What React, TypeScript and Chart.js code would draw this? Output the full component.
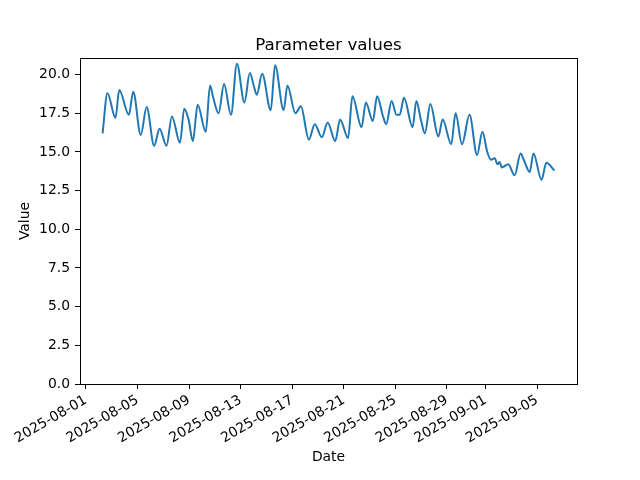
import React, { useEffect, useRef } from "react";
import { Chart, registerables } from "chart.js";

Chart.register(...registerables);

const chartTitle = "Parameter values";
const xAxisTitle = "Date";
const yAxisTitle = "Value";

const times: string[] = [
  "2025-08-02T07:00", "2025-08-02T16:00", "2025-08-03T07:00", "2025-08-03T14:00",
  "2025-08-04T08:00", "2025-08-04T16:00", "2025-08-05T06:00", "2025-08-05T17:00",
  "2025-08-06T07:00", "2025-08-06T17:00", "2025-08-07T06:00", "2025-08-07T16:00",
  "2025-08-08T07:00", "2025-08-08T15:00", "2025-08-08T23:00", "2025-08-09T07:00",
  "2025-08-09T16:00", "2025-08-10T07:00", "2025-08-10T15:00", "2025-08-10T21:00",
  "2025-08-11T07:00", "2025-08-11T17:00", "2025-08-12T06:00", "2025-08-12T17:00",
  "2025-08-13T07:00", "2025-08-13T17:00", "2025-08-14T01:00", "2025-08-14T06:00",
  "2025-08-14T16:00", "2025-08-15T08:00", "2025-08-15T16:00", "2025-08-16T08:00",
  "2025-08-16T15:00", "2025-08-17T06:00", "2025-08-17T16:00", "2025-08-18T07:00",
  "2025-08-18T18:00", "2025-08-19T07:00", "2025-08-19T18:00", "2025-08-20T08:00",
  "2025-08-20T17:00", "2025-08-21T08:00", "2025-08-21T16:00", "2025-08-22T09:00",
  "2025-08-22T17:00", "2025-08-23T06:00", "2025-08-23T14:00", "2025-08-24T01:00",
  "2025-08-24T07:00", "2025-08-24T17:00", "2025-08-25T02:00", "2025-08-25T08:00",
  "2025-08-25T16:00", "2025-08-26T08:00", "2025-08-26T15:00", "2025-08-27T00:00",
  "2025-08-27T07:00", "2025-08-27T17:00", "2025-08-28T08:00", "2025-08-28T16:00",
  "2025-08-29T08:00", "2025-08-29T16:00", "2025-08-30T04:00", "2025-08-30T18:00",
  "2025-08-31T08:00", "2025-08-31T18:00", "2025-09-01T03:00", "2025-09-01T10:00",
  "2025-09-01T17:00", "2025-09-01T22:00", "2025-09-02T02:00", "2025-09-02T06:00",
  "2025-09-02T18:00", "2025-09-03T06:00", "2025-09-03T17:00", "2025-09-03T23:00",
  "2025-09-04T10:00", "2025-09-04T17:00", "2025-09-05T08:00", "2025-09-05T17:00",
  "2025-09-06T08:00",
];

const values: number[] = [
  16.2, 18.8, 17.2, 19.0,
  17.4, 18.9, 16.1, 17.9,
  15.4, 16.5, 15.4, 17.3,
  15.6, 17.8, 17.1, 15.7,
  18.05, 16.3, 19.3, 18.5,
  17.5, 19.4, 17.4, 20.7,
  18.2, 20.1, 19.2, 18.7,
  20.05, 17.7, 20.6, 17.7,
  19.3, 17.5, 17.95, 15.8,
  16.8, 15.95, 16.9, 15.7,
  17.1, 15.9, 18.6, 16.6,
  18.2, 17.0, 18.6, 17.3,
  16.8, 18.3, 17.4, 17.4,
  18.5, 16.6, 18.3, 17.0,
  16.2, 18.1, 16.0, 17.1,
  15.5, 17.5, 15.5, 17.4,
  14.8, 16.3, 15.0, 14.5,
  14.6, 14.2, 14.35, 14.0,
  14.2, 13.5, 14.9, 14.5,
  13.7, 14.9, 13.2, 14.3,
  13.8,
];

const xTickLabels: string[] = [
  "2025-08-01", "2025-08-05", "2025-08-09", "2025-08-13", "2025-08-17",
  "2025-08-21", "2025-08-25", "2025-08-29", "2025-09-01", "2025-09-05",
];

const yTickValues: number[] = [0, 2.5, 5, 7.5, 10, 12.5, 15, 17.5, 20];

const toMs = (s: string) => Date.parse(s.length <= 10 ? s + "T00:00:00Z" : s + ":00Z");

const fmtDate = (ms: number) => {
  const d = new Date(ms);
  const mm = String(d.getUTCMonth() + 1).padStart(2, "0");
  const dd = String(d.getUTCDate()).padStart(2, "0");
  return `${d.getUTCFullYear()}-${mm}-${dd}`;
};

const FONT = "'DejaVu Sans', sans-serif";

const frame = {
  id: "frame",
  afterDraw(chart: any) {
    const { ctx, chartArea } = chart;
    ctx.save();
    ctx.strokeStyle = "#000";
    ctx.lineWidth = 1;
    ctx.strokeRect(
      Math.round(chartArea.left) + 0.5,
      Math.round(chartArea.top) + 0.5,
      Math.round(chartArea.right - chartArea.left),
      Math.round(chartArea.bottom - chartArea.top)
    );
    // axes title, centred over the plot area like matplotlib
    ctx.fillStyle = "#000";
    ctx.font = `16.7px ${FONT}`;
    ctx.textAlign = "center";
    ctx.textBaseline = "alphabetic";
    ctx.fillText(chartTitle, (chartArea.left + chartArea.right) / 2, chartArea.top - 8);
    ctx.restore();
  },
};

export default function App() {
  const ref = useRef<HTMLCanvasElement | null>(null);

  useEffect(() => {
    if (!ref.current) return;
    const pts = times.map((t, i) => ({ x: toMs(t), y: values[i] }));
    const xs = pts.map((p) => p.x);
    const xmin = Math.min(...xs);
    const xmax = Math.max(...xs);
    const margin = (xmax - xmin) * 0.05;
    const ys = values;
    const ymaxData = Math.max(...ys);
    const yminData = Math.min(...ys);
    const ymax = ymaxData + (ymaxData - yminData) * 0.05;

    const chart = new Chart(ref.current, {
      type: "line",
      data: {
        datasets: [
          {
            data: pts,
            borderColor: "#1f77b4",
            borderWidth: 2,
            pointRadius: 0,
            cubicInterpolationMode: "monotone",
            fill: false,
          },
        ],
      },
      options: {
        animation: false,
        responsive: false,
        layout: { padding: { top: 58, right: 63, bottom: 0, left: 0 } },
        plugins: {
          legend: { display: false },
          tooltip: { enabled: false },
          title: { display: false },
        },
        scales: {
          x: {
            type: "linear",
            min: xmin - margin,
            max: xmax + margin,
            afterFit: (s: any) => {
              s.height = 96;
            },
            afterBuildTicks: (s: any) => {
              s.ticks = xTickLabels.map((l) => ({ value: toMs(l) }));
            },
            border: { display: false },
            grid: {
              drawOnChartArea: false,
              drawTicks: true,
              tickLength: 5,
              tickColor: "#000",
              tickWidth: 1,
            },
            ticks: {
              autoSkip: false,
              maxRotation: 30,
              minRotation: 30,
              padding: 3,
              color: "#000",
              font: { family: FONT, size: 13.9 },
              callback: (v: any) => fmtDate(Number(v)),
            },
            title: {
              display: true,
              text: xAxisTitle,
              color: "#000",
              font: { family: FONT, size: 13.9 },
              padding: { top: 0, bottom: 14.5 },
            },
          },
          y: {
            type: "linear",
            min: 0,
            max: ymax,
            afterFit: (s: any) => {
              s.width = 80;
            },
            afterBuildTicks: (s: any) => {
              s.ticks = yTickValues.map((v) => ({ value: v }));
            },
            border: { display: false },
            grid: {
              drawOnChartArea: false,
              drawTicks: true,
              tickLength: 5,
              tickColor: "#000",
              tickWidth: 1,
            },
            ticks: {
              padding: 5,
              color: "#000",
              font: { family: FONT, size: 13.9 },
              callback: (v: any) => Number(v).toFixed(1),
            },
            title: {
              display: true,
              text: yAxisTitle,
              color: "#000",
              font: { family: FONT, size: 13.9 },
              padding: { top: 17.5, bottom: 0 },
            },
          },
        },
      },
      plugins: [frame],
    } as any);

    return () => chart.destroy();
  }, []);

  return (
    <div style={{ position: "absolute", left: 0, top: 0, width: 640, height: 480, background: "#fff" }}>
      <canvas ref={ref} width={640} height={480} style={{ display: "block" }} />
    </div>
  );
}
